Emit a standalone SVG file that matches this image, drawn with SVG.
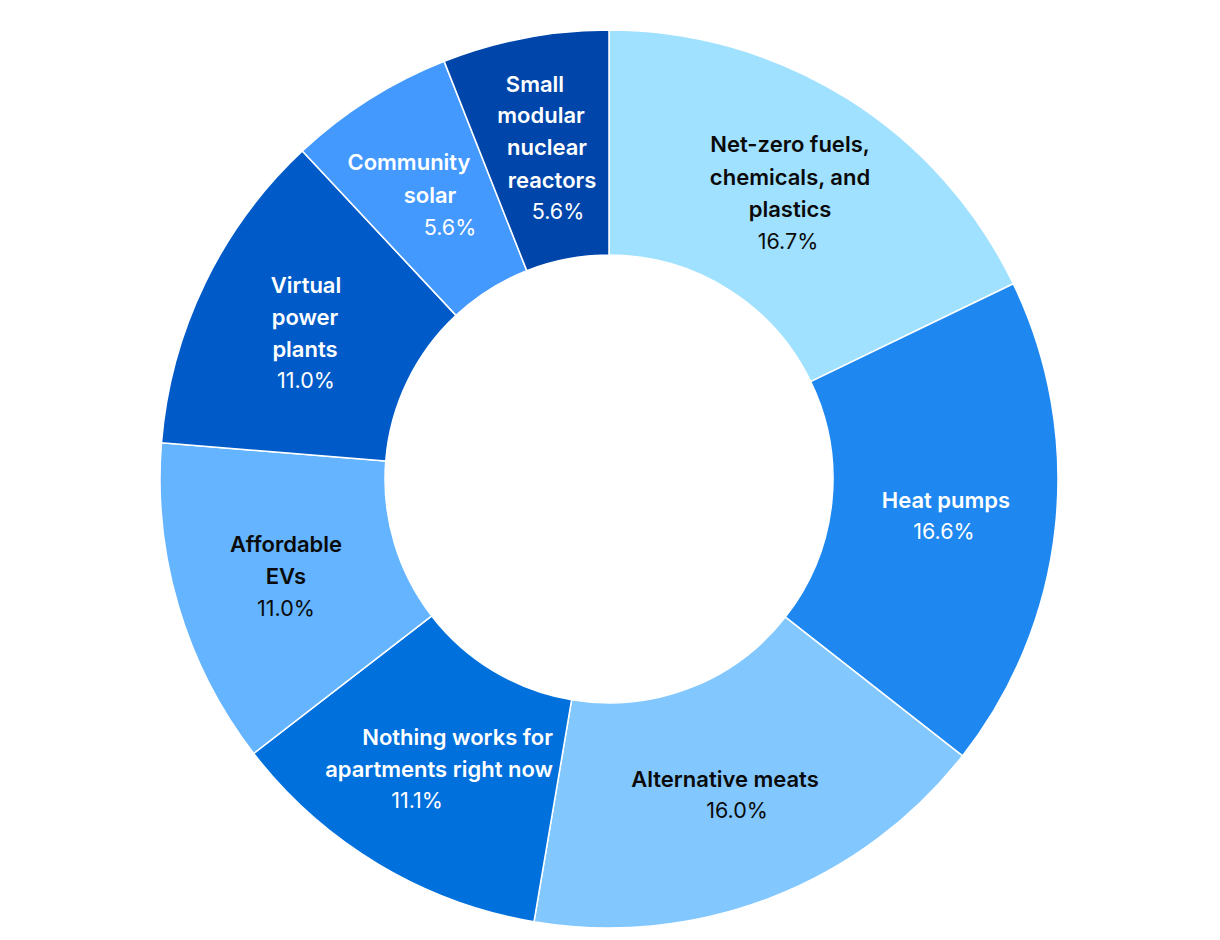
<svg xmlns="http://www.w3.org/2000/svg" width="1220" height="940" viewBox="0 0 1220 940">
<style>
.seg{stroke:#ffffff;stroke-width:1.5;stroke-linejoin:round}
text{font-family:Inter,"Noto Sans","Liberation Sans",sans-serif;text-anchor:middle}
.n{font-weight:600;font-size:22px}
.p{font-weight:400;font-size:21.5px}
.e{text-anchor:end}
.w{fill:#ffffff}
.k{fill:#0a0a0a}
</style>
<rect width="1220" height="940" fill="#ffffff"/>
<g id="connectors"/>
<g id="node-netzero">
<path class="seg" fill="#A0E1FF" d="M609,30 A449,449 0 0 1 1013.35,283.80 L810.73,381.62 A224,224 0 0 0 609,255 Z"/>
<text class="n k" x="790" y="152">Net-zero fuels,</text>
<text class="n k" x="790" y="185">chemicals, and</text>
<text class="n k" x="790" y="217">plastics</text>
<text class="p k" x="788" y="249">16.7%</text>
</g>
<g id="node-heatpumps">
<path class="seg" fill="#1E88F0" d="M1013.35,283.80 A449,449 0 0 1 962.44,755.91 L785.33,617.15 A224,224 0 0 0 810.73,381.62 Z"/>
<text class="n w" x="946" y="508">Heat pumps</text>
<text class="p w" x="944" y="539">16.6%</text>
</g>
<g id="node-altmeats">
<path class="seg" fill="#82C8FF" d="M962.44,755.91 A449,449 0 0 1 534.00,921.69 L571.58,699.85 A224,224 0 0 0 785.33,617.15 Z"/>
<text class="n k" x="725" y="787">Alternative meats</text>
<text class="p k" x="737" y="818">16.0%</text>
</g>
<g id="node-apartments">
<path class="seg" fill="#0070DC" d="M534.00,921.69 A449,449 0 0 1 253.70,753.53 L431.74,615.96 A224,224 0 0 0 571.58,699.85 Z"/>
<text class="n w e" x="553" y="745">Nothing works for</text>
<text class="n w e" x="553" y="777">apartments right now</text>
<text class="p w" x="417" y="808">11.1%</text>
</g>
<g id="node-evs">
<path class="seg" fill="#64B4FF" d="M253.70,753.53 A449,449 0 0 1 161.46,442.87 L385.73,460.98 A224,224 0 0 0 431.74,615.96 Z"/>
<text class="n k" x="286" y="552">Affordable</text>
<text class="n k" x="286" y="584">EVs</text>
<text class="p k" x="286" y="616">11.0%</text>
</g>
<g id="node-vpp">
<path class="seg" fill="#005BC8" d="M161.46,442.87 A449,449 0 0 1 302.34,151.04 L456.01,315.38 A224,224 0 0 0 385.73,460.98 Z"/>
<text class="n w" x="306" y="293">Virtual</text>
<text class="n w" x="305" y="325">power</text>
<text class="n w" x="305" y="357">plants</text>
<text class="p w" x="306" y="388">11.0%</text>
</g>
<g id="node-community">
<path class="seg" fill="#4499FF" d="M302.34,151.04 A449,449 0 0 1 444.16,61.35 L526.76,270.64 A224,224 0 0 0 456.01,315.38 Z"/>
<text class="n w" x="409" y="170">Community</text>
<text class="n w" x="430" y="203">solar</text>
<text class="p w" x="450" y="235">5.6%</text>
</g>
<g id="node-smr">
<path class="seg" fill="#0046AA" d="M444.16,61.35 A449,449 0 0 1 609,30 L609,255 A224,224 0 0 0 526.76,270.64 Z"/>
<text class="n w" x="535" y="92">Small</text>
<text class="n w" x="541" y="123">modular</text>
<text class="n w" x="547" y="155">nuclear</text>
<text class="n w" x="552" y="188">reactors</text>
<text class="p w" x="558" y="219">5.6%</text>
</g>
</svg>
